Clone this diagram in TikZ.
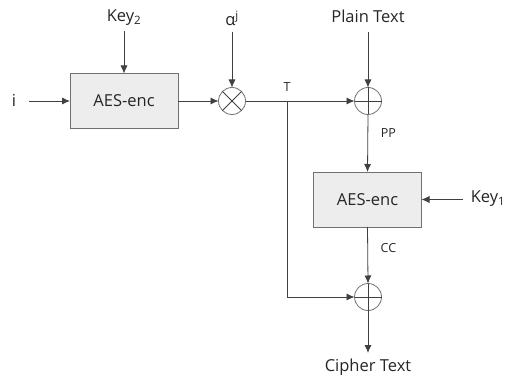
\documentclass[tikz,border=0pt]{standalone}
\usepackage{fontspec}
\setmainfont{Open Sans}
\usetikzlibrary{arrows.meta}
\definecolor{linegray}{HTML}{404040}
\definecolor{boxfill}{HTML}{EDEDED}
\definecolor{boxedge}{HTML}{707070}
\begin{document}
\begin{tikzpicture}[x=1pt,y=-1pt,
  every node/.style={inner sep=0pt, outer sep=0pt},
  lbl/.style={font=\fontsize{16.5}{18}\selectfont, text=black!85},
  small/.style={font=\fontsize{12.5}{14}\selectfont, text=black!85},
  encbox/.style={draw=boxedge, fill=boxfill, line width=0.9pt, minimum width=108pt, minimum height=55pt, font=\fontsize{16.5}{18}\selectfont, text=black!85},
  opcirc/.style={circle, draw=boxedge, line width=0.8pt, minimum size=27pt},
  flow/.style={draw=linegray, line width=0.8pt, -{Latex[length=8pt,width=7pt]}},
  wire/.style={draw=linegray, line width=0.8pt}]
\useasboundingbox (0,0) rectangle (508,379);

% first AES stage
\node[encbox] (enc1) at (124,101) {AES-enc};
\node[lbl] (key2) at (124,18) {Key\textsubscript{2}};
\node[lbl] (iin) at (14,100) {i};
\coordinate (key2e) at (124,31);
\coordinate (ie) at (29,101);
\draw[flow] (key2e) -- (enc1.north);
\draw[flow] (ie) -- (enc1.west);

% multiplication by alpha^j
\node[opcirc] (mul) at (232,101) {};
\draw[wire] (mul.north west) -- (mul.south east);
\draw[wire] (mul.north east) -- (mul.south west);
\node[lbl] (alpha) at (232,18) {α\textsuperscript{j}};
\coordinate (alphae) at (232,32);
\draw[flow] (alphae) -- (mul.north);
\draw[flow] (enc1.east) -- (mul.west);

% first XOR
\node[opcirc] (xor1) at (368,101) {};
\draw[wire] (xor1.north) -- (xor1.south);
\draw[wire] (xor1.west) -- (xor1.east);
\node[lbl] (plain) at (368,16) {Plain Text};
\coordinate (plaine) at (368,32);
\draw[flow] (plaine) -- (xor1.north);
\coordinate (tap) at (287,101);
\node[small] (tlbl) at (287,87) {T};
\draw[flow] (mul.east) -- (xor1.west);

% second AES stage
\node[encbox] (enc2) at (367.5,199.5) {AES-enc};
\node[lbl] (key1) at (488,199) {Key\textsubscript{1}};
\coordinate (key1e) at (463,199.5);
\draw[flow] (key1e) -- (enc2.east);
\draw[flow] (xor1.south) -- node[small, right=13pt, pos=0.32] (pplbl) {PP} (enc2.north);

% second XOR
\node[opcirc] (xor2) at (368,297) {};
\draw[wire] (xor2.north) -- (xor2.south);
\draw[wire] (xor2.west) -- (xor2.east);
\draw[flow] (enc2.south) -- node[small, right=13pt, pos=0.37] (cclbl) {CC} (xor2.north);
\draw[flow] (tap) |- (xor2.west);

\node[lbl] (cipher) at (368,367) {Cipher Text};
\coordinate (ciphere) at (368,353);
\draw[flow] (xor2.south) -- (ciphere);
\end{tikzpicture}
\end{document}
